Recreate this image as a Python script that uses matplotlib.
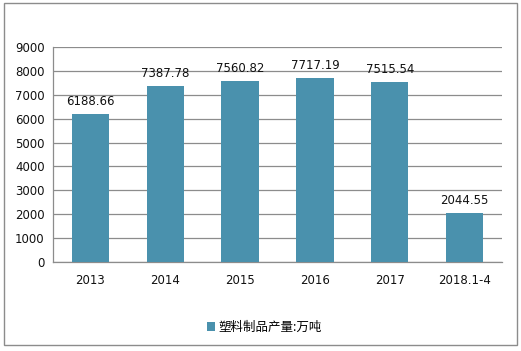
import matplotlib
matplotlib.use("Agg")
import matplotlib.pyplot as plt
from matplotlib.patches import Rectangle

plt.rcParams['font.family'] = ['DejaVu Sans', 'Noto Sans CJK SC']

years = ["2013", "2014", "2015", "2016", "2017", "2018.1-4"]
output = [6188.66, 7387.78, 7560.82, 7717.19, 7515.54, 2044.55]
series_name = "塑料制品产量:万吨"

W, H = 521, 351
fig = plt.figure(figsize=(W / 100, H / 100), dpi=100)
ax = fig.add_axes([53 / W, 1 - 262 / H, (502 - 53) / W, (262 - 47) / H])

x = range(len(years))
bars = ax.bar(x, output, width=0.5, color="#4a91ad", label=series_name, zorder=3)
for xi, v in zip(x, output):
    ax.text(xi, v + 250, "%.2f" % v, ha="center", va="bottom", fontsize=8.5, color="#111111")

ax.set_xlim(-0.5, len(years) - 0.5)
ax.set_ylim(0, 9000)
ax.set_yticks(range(0, 9001, 1000))
ax.set_xticks(list(x))
ax.set_xticklabels(years)
ax.tick_params(axis="both", length=0, labelsize=8.5, colors="#111111")
ax.tick_params(axis="x", pad=9)
ax.tick_params(axis="y", pad=6)
ax.yaxis.grid(True, color="#8c8c8c", linewidth=0.9, zorder=0)
for s in ["top", "right"]:
    ax.spines[s].set_visible(False)
for s in ["left", "bottom"]:
    ax.spines[s].set_color("#8c8c8c")
    ax.spines[s].set_linewidth(0.9)

fig.legend(handles=[bars], labels=[series_name], loc="center",
           bbox_to_anchor=(264 / W, 1 - 327 / H), frameon=False,
           prop={"family": ["Noto Sans CJK SC", "DejaVu Sans"], "size": 9},
           handlelength=0.7, handleheight=0.7, handletextpad=0.2)

fig.patches.append(Rectangle((4 / W, 1 - 345 / H), (517 - 4) / W, (345 - 3) / H,
                             transform=fig.transFigure, fill=False,
                             edgecolor="#8c8c8c", linewidth=1))

fig.savefig("out.png", dpi=100)
